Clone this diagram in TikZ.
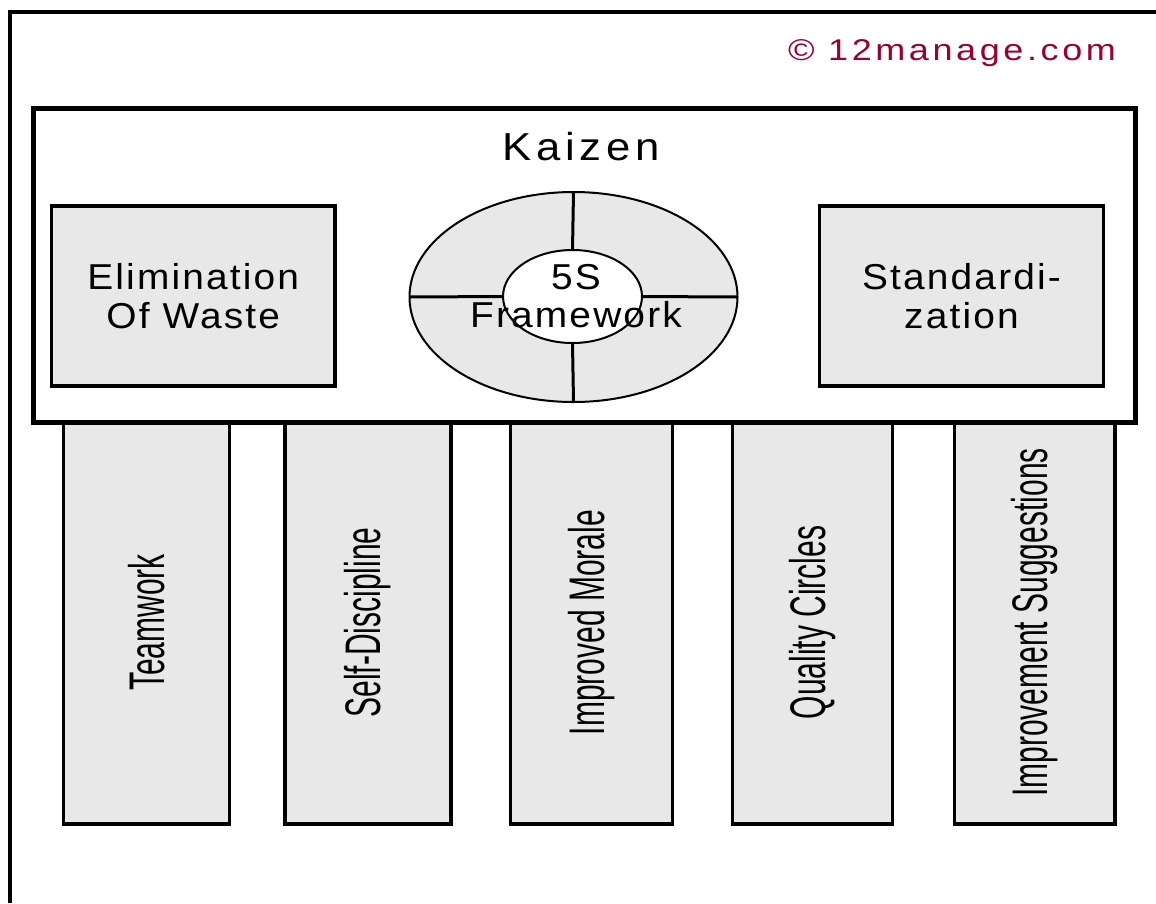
\documentclass[tikz,border=0pt]{standalone}
\usepackage{fontspec}
\setmainfont{Liberation Sans}
\newfontfamily\labelfont[FakeStretch=1.08,LetterSpace=6]{Liberation Sans}
\newfontfamily\titlefont[FakeStretch=1.12,LetterSpace=12]{Liberation Sans}
\newfontfamily\markfont[FakeStretch=1.2,LetterSpace=12]{Liberation Sans}
\newfontfamily\pillarfont[FakeStretch=0.6]{Liberation Sans}
\usetikzlibrary{shapes.geometric}
\definecolor{panel}{HTML}{E8E8E8}
\definecolor{brand}{HTML}{990033}

\begin{document}
\begin{tikzpicture}[x=1pt,y=-1pt,
  panelbox/.style={draw=black, fill=panel, line width=3.2pt, rectangle,
    inner sep=0pt, outer sep=0pt, align=center,
    font=\labelfont\fontsize{36}{38.5}\selectfont},
  pillar/.style={draw=black, fill=panel, line width=3.2pt, rectangle,
    inner sep=0pt, outer sep=0pt, rotate=90,
    minimum width=403pt, font=\pillarfont\fontsize{50}{50}\selectfont},
  ring/.style={ellipse, draw=black, line width=2pt, inner sep=0pt, outer sep=0pt},
  spoke/.style={draw=black, line width=3pt},
  frameline/.style={draw=black, line width=4pt}
]
\useasboundingbox (0,0) rectangle (1156,903);

% page frame (top and left edges)
\coordinate (fr-top) at (1156,11.5);
\coordinate (fr-bot) at (10.3,903);
\draw[frameline] (fr-top) -| (fr-bot);

% copyright mark
\node[text=brand, font=\markfont\fontsize{30}{30}\selectfont, anchor=base]
  (mark) at (952,60) {\textcopyright\ 12manage.com};

% pillars under the roof
\node[pillar, minimum height=166pt] (p1) at (146.5,622.5) {Teamwork};
\node[pillar, minimum height=166pt] (p2) at (368,622.5) {Self-Discipline};
\node[pillar, minimum height=162pt] (p3) at (591.5,622.5) {Improved Morale};
\node[pillar, minimum height=160pt] (p4) at (812.5,622.5) {Quality Circles};
\node[pillar, minimum height=160.5pt] (p5) at (1034.75,622.5) {Improvement Suggestions};

% Kaizen roof
\node[draw=black, fill=white, line width=5pt, rectangle, inner sep=0pt, outer sep=0pt,
  minimum width=1101.7pt, minimum height=314pt] (kaizen) at (584.15,265) {};
\node[font=\titlefont\fontsize{39}{39}\selectfont] (title) at (581,147) {Kaizen};

% side boxes
\node[panelbox, minimum width=283.5pt, minimum height=180pt] (waste) at (193.25,296)
  {Elimination\\Of Waste};
\node[panelbox, minimum width=283.5pt, minimum height=180pt] (std) at (961.5,296)
  {Standardi-\\zation};

% 5S wheel
\node[ring, fill=panel, minimum width=328pt, minimum height=210pt] (outer) at (573.5,297) {};
\node[ring, fill=white, minimum width=139pt, minimum height=93pt] (inner) at (572.5,296.5) {};
\draw[spoke] (outer.north) -- (inner.north);
\draw[spoke] (inner.south) -- (outer.south);
\draw[spoke] (outer.west) -- (inner.west);
\draw[spoke] (inner.east) -- (outer.east);
\node[align=center, font=\labelfont\fontsize{36}{38.5}\selectfont] (fiveS) at (576,296)
  {5S\\Framework};
\end{tikzpicture}
\end{document}
